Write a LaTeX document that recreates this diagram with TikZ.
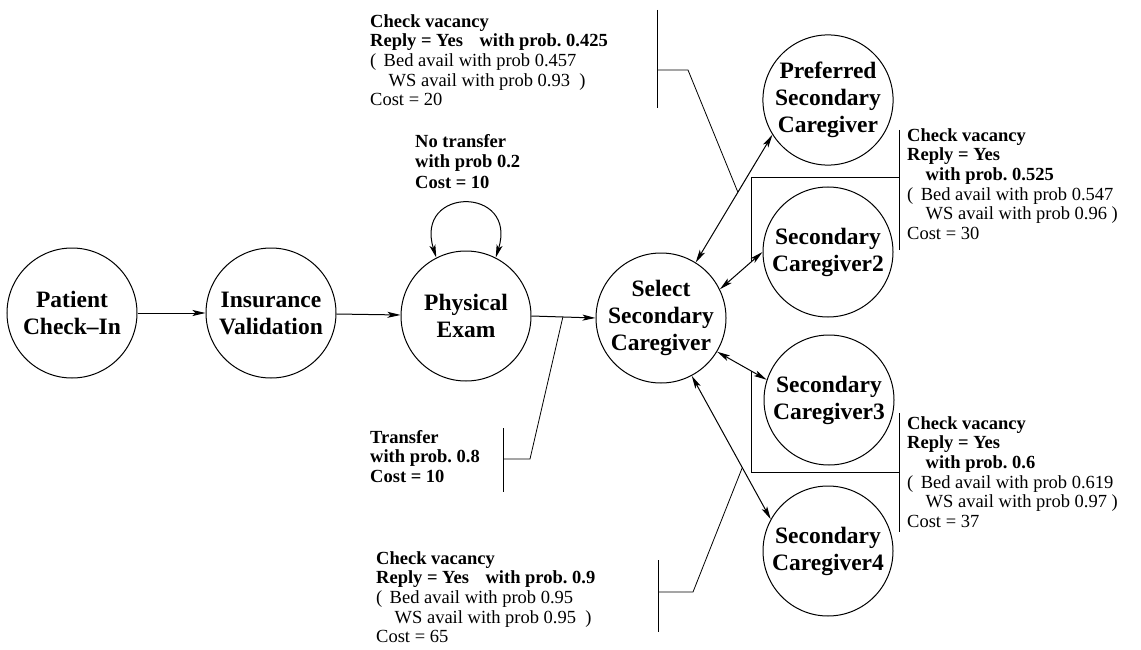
\documentclass[tikz,border=0pt]{standalone}
\usepackage{fontspec}
\setmainfont{Liberation Serif}
\frenchspacing
\usetikzlibrary{arrows.meta,calc}
\tikzset{
  st/.style={circle, draw, line width=1pt, minimum size=130pt, inner sep=0pt, align=center,
    font=\fontsize{23.5}{27}\selectfont\bfseries},
  lbl/.style={anchor=north west, inner sep=0pt, align=left, font=\fontsize{18.5}{19.7}\selectfont},
  tip/.tip={Stealth[length=13pt,width=6pt,inset=3pt]},
  arr/.style={line width=1pt, -tip},
  darr/.style={line width=1pt, tip-tip},
  lead/.style={line width=0.8pt}
}
\begin{document}
\begin{tikzpicture}[x=1pt,y=-1pt]
\useasboundingbox (0,0) rectangle (1141,650);
% states
\node[st] (P)  at (72,313)  {Patient\\Check--In};
\node[st] (I)  at (271,313) {Insurance\\Validation};
\node[st] (E)  at (466,316) {Physical\\Exam};
\node[st] (S)  at (661,318) {Select\\Secondary\\Caregiver};
\node[st] (PR) at (828,100) {Preferred\\Secondary\\Caregiver};
\node[st] (C2) at (828,252) {Secondary\\Caregiver2};
\node[st] (C3) at (829,400) {Secondary\\Caregiver3};
\node[st] (C4) at (828,551) {Secondary\\Caregiver4};
% transitions
\draw[arr] (P) -- (I);
\draw[arr] (I) -- (E);
\draw[arr] (E.east) -- (S.west);
\draw[darr] (E.117) .. controls (414,186) and (518,186) .. (E.63);
\draw[darr] (S.58) -- (PR.212);
\draw[darr] (S.26) -- (C2.180);
\draw[darr] (S.-31) -- (C3.162);
\draw[darr] (S.-62) -- (C4.151);
% points on transitions where labels attach
\coordinate (mPR) at ($(S.58)!0.55!(PR.212)$);
\coordinate (mC2) at ($(S.26)!0.75!(C2.180)$);
\coordinate (mC3) at ($(S.-31)!0.7!(C3.162)$);
\coordinate (mC4) at ($(S.-62)!0.64!(C4.151)$);
\coordinate (mES) at ($(E.east)!0.49!(S.west)$);
% labels
\node[lbl] (A1) at (370,14) {\textbf{Check vacancy}\\
\textbf{Reply = Yes\hspace{0.9em}with prob. 0.425}\\
(\hspace{0.4em}Bed avail with prob 0.457\\
\hspace*{1em}WS avail with prob 0.93\hspace{0.5em})\\
Cost = 20};
\node[lbl,font=\fontsize{18.5}{20.5}\selectfont\bfseries] (NT) at (415,134) {No transfer\\with prob 0.2\\Cost = 10};
\node[lbl,font=\fontsize{18.5}{19.7}\selectfont\bfseries] (TR) at (370,430) {Transfer\\with prob. 0.8\\Cost = 10};
\node[lbl] (A4) at (376,551) {\textbf{Check vacancy}\\
\textbf{Reply = Yes\hspace{0.9em}with prob. 0.9}\\
(\hspace{0.4em}Bed avail with prob 0.95\\
\hspace*{1em}WS avail with prob 0.95\hspace{0.5em})\\
Cost = 65};
\node[lbl] (A2) at (907,128) {\textbf{Check vacancy}\\
\textbf{Reply = Yes}\\
\textbf{\hspace*{1em}with prob. 0.525}\\
(\hspace{0.4em}Bed avail with prob 0.547\\
\hspace*{1em}WS avail with prob 0.96 )\\
Cost = 30};
\node[lbl] (A3) at (907,416) {\textbf{Check vacancy}\\
\textbf{Reply = Yes}\\
\textbf{\hspace*{1em}with prob. 0.6}\\
(\hspace{0.4em}Bed avail with prob 0.619\\
\hspace*{1em}WS avail with prob 0.97 )\\
Cost = 37};
% label brackets and leaders
\coordinate (b1t) at (657,10);  \coordinate (b1b) at (657,108); \coordinate (b1h) at (657,70);
\coordinate (b1k) at (688,70);
\draw[lead] (b1t) -- (b1b);
\draw[lead] (b1h) -- (b1k) -- (mPR);
\coordinate (btt) at (503,428); \coordinate (btb) at (503,492); \coordinate (bth) at (503,459);
\coordinate (btk) at (530,459);
\draw[lead] (btt) -- (btb);
\draw[lead] (bth) -- (btk) -- (mES);
\coordinate (b4t) at (658,560); \coordinate (b4b) at (658,632); \coordinate (b4h) at (658,592);
\coordinate (b4k) at (693,592);
\draw[lead] (b4t) -- (b4b);
\draw[lead] (b4h) -- (b4k) -- (mC4);
\coordinate (b2t) at (899,130); \coordinate (b2b) at (899,250); \coordinate (b2h) at (899,177);
\draw[lead] (b2t) -- (b2b);
\draw[lead] (b2h) -| (mC2);
\coordinate (b3t) at (899,413); \coordinate (b3b) at (899,532); \coordinate (b3h) at (899,472);
\draw[lead] (b3t) -- (b3b);
\draw[lead] (b3h) -| (mC3);
\end{tikzpicture}
\end{document}
